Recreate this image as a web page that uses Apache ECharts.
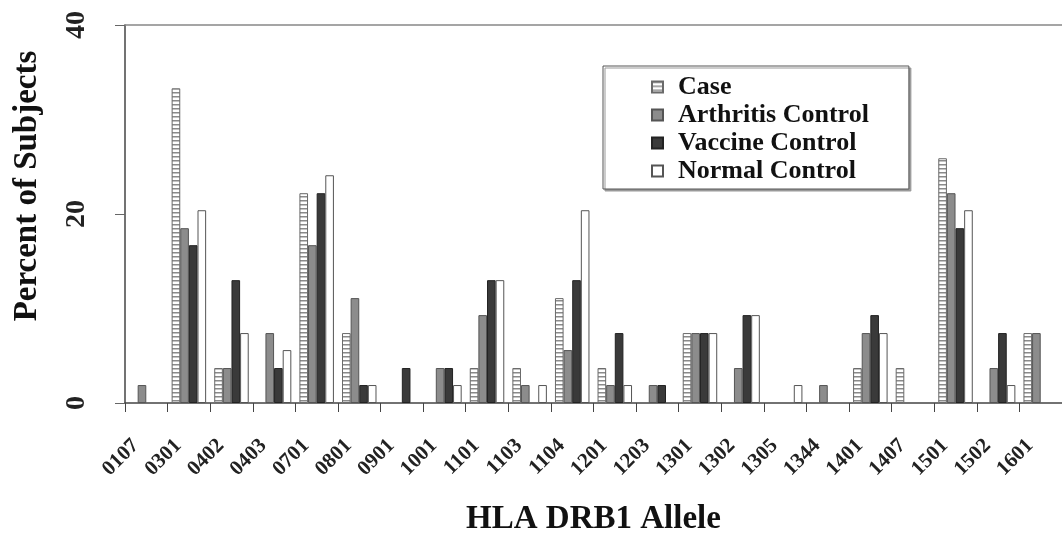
<!DOCTYPE html>
<html>
<head>
<meta charset="utf-8">
<script src="https://cdn.jsdelivr.net/npm/echarts@6/dist/echarts.min.js"></script>
<style>
  html, body { margin: 0; padding: 0; background: #fff; }
  #chart { width: 1062px; height: 533px; }
</style>
</head>
<body>
<div id="chart"></div>
<script>
// HLA DRB1 alleles on the x axis
const alleles = ["0107", "0301", "0402", "0403", "0701", "0801", "0901", "1001", "1101", "1103", "1104",
  "1201", "1203", "1301", "1302", "1305", "1344", "1401", "1407", "1501", "1502", "1601"];

// percent of subjects per group
const caseVals      = [0, 33.3, 3.7, 0, 22.2, 7.4, 0, 0, 3.7, 3.7, 11.1, 3.7, 0, 7.4, 0, 0, 0, 3.7, 3.7, 25.9, 0, 7.4];
const arthritisVals = [1.9, 18.5, 3.7, 7.4, 16.7, 11.1, 0, 3.7, 9.3, 1.9, 5.6, 1.9, 1.9, 7.4, 3.7, 0, 1.9, 7.4, 0, 22.2, 3.7, 7.4];
const vaccineVals   = [0, 16.7, 13.0, 3.7, 22.2, 1.9, 3.7, 3.7, 13.0, 0, 13.0, 7.4, 1.9, 7.4, 9.3, 0, 0, 9.3, 0, 18.5, 7.4, 0];
const normalVals    = [0, 20.4, 7.4, 5.6, 24.1, 1.9, 0, 1.9, 13.0, 1.9, 20.4, 1.9, 0, 7.4, 9.3, 1.9, 0, 7.4, 0, 20.4, 1.9, 0];

const yTicks = [0, 20, 40];

const serif = "Liberation Serif";

// horizontal stripe fill for the Case bars
function stripes() {
  const c = document.createElement("canvas");
  c.width = 4;
  c.height = 4;
  const ctx = c.getContext("2d");
  ctx.fillStyle = "#ffffff";
  ctx.fillRect(0, 0, 4, 4);
  ctx.fillStyle = "#8a8a8a";
  ctx.fillRect(0, 0, 4, 1);
  ctx.fillStyle = "#c4c4c4";
  ctx.fillRect(0, 1, 4, 1);
  return c;
}

const chart = echarts.init(document.getElementById("chart"));

function bar(name, data, itemStyle) {
  return {
    name: name,
    type: "bar",
    // no outline on empty bars, so they don't thicken the axis
    data: data.map(v => (v === 0 ? { value: 0, itemStyle: { borderWidth: 0 } } : v)),
    barGap: "0%",
    barCategoryGap: "19%",
    itemStyle: itemStyle,
    emphasis: { disabled: true }
  };
}

chart.setOption({
  animation: false,
  grid: { left: 125, right: 0, top: 25, bottom: 130, outerBoundsMode: "none" },
  legend: {
    orient: "vertical",
    left: 603,
    top: 66,
    padding: [8, 40, 5, 48],
    itemGap: 2,
    itemWidth: 11,
    itemHeight: 11,
    icon: "rect",
    borderColor: "#555",
    borderWidth: 1,
    backgroundColor: "#fff",
    shadowColor: "#999",
    shadowOffsetX: 2,
    shadowOffsetY: 2,
    textStyle: {
      fontFamily: serif,
      fontWeight: "bold",
      fontSize: 26,
      lineHeight: 22,
      padding: [0, 0, 0, 10],
      color: "#111"
    },
    data: ["Case", "Arthritis Control", "Vaccine Control", "Normal Control"]
  },
  xAxis: [
    {
      type: "category",
      data: alleles,
      boundaryGap: true,
      axisLine: { lineStyle: { color: "#444", width: 1.5 } },
      axisTick: { show: true, length: 9, lineStyle: { color: "#444" } },
      axisLabel: {
        interval: 0,
        rotate: 45,
        margin: 29,
        padding: [0, 15, 0, 0],
        fontFamily: serif,
        fontWeight: "bold",
        fontSize: 21,
        color: "#222"
      },
      name: "HLA DRB1 Allele",
      nameLocation: "middle",
      nameGap: 100,
      nameTextStyle: {
        fontFamily: serif,
        fontWeight: "bold",
        fontSize: 33,
        color: "#111"
      }
    },
    {
      // thin line along the top of the plot
      type: "category",
      data: alleles,
      position: "top",
      axisLine: { lineStyle: { color: "#888", width: 1.5 } },
      axisTick: { show: false },
      axisLabel: { show: false }
    }
  ],
  yAxis: {
    type: "value",
    min: yTicks[0],
    max: yTicks[yTicks.length - 1],
    interval: 20,
    splitLine: { show: false },
    axisLine: { show: true, lineStyle: { color: "#444", width: 1.5 } },
    axisTick: { show: true, length: 10, lineStyle: { color: "#666" } },
    axisLabel: {
      rotate: 90,
      margin: 34,
      fontFamily: serif,
      fontWeight: "bold",
      fontSize: 28,
      color: "#222"
    }
  },
  graphic: [
    {
      type: "text",
      x: 27,
      y: 186,
      rotation: Math.PI / 2,
      style: {
        text: "Percent of Subjects",
        fontFamily: serif,
        fontWeight: "bold",
        fontSize: 33,
        fill: "#111",
        align: "center",
        verticalAlign: "middle"
      }
    }
  ],
  series: [
    bar("Case", caseVals, {
      color: { image: stripes(), repeat: "repeat" },
      borderColor: "#6a6a6a",
      borderWidth: 1
    }),
    bar("Arthritis Control", arthritisVals, {
      color: "#8c8c8c",
      borderColor: "#555",
      borderWidth: 1
    }),
    bar("Vaccine Control", vaccineVals, {
      color: "#3a3a3a",
      borderColor: "#222",
      borderWidth: 1
    }),
    bar("Normal Control", normalVals, {
      color: "#ffffff",
      borderColor: "#555",
      borderWidth: 1
    })
  ]
});
</script>
</body>
</html>
